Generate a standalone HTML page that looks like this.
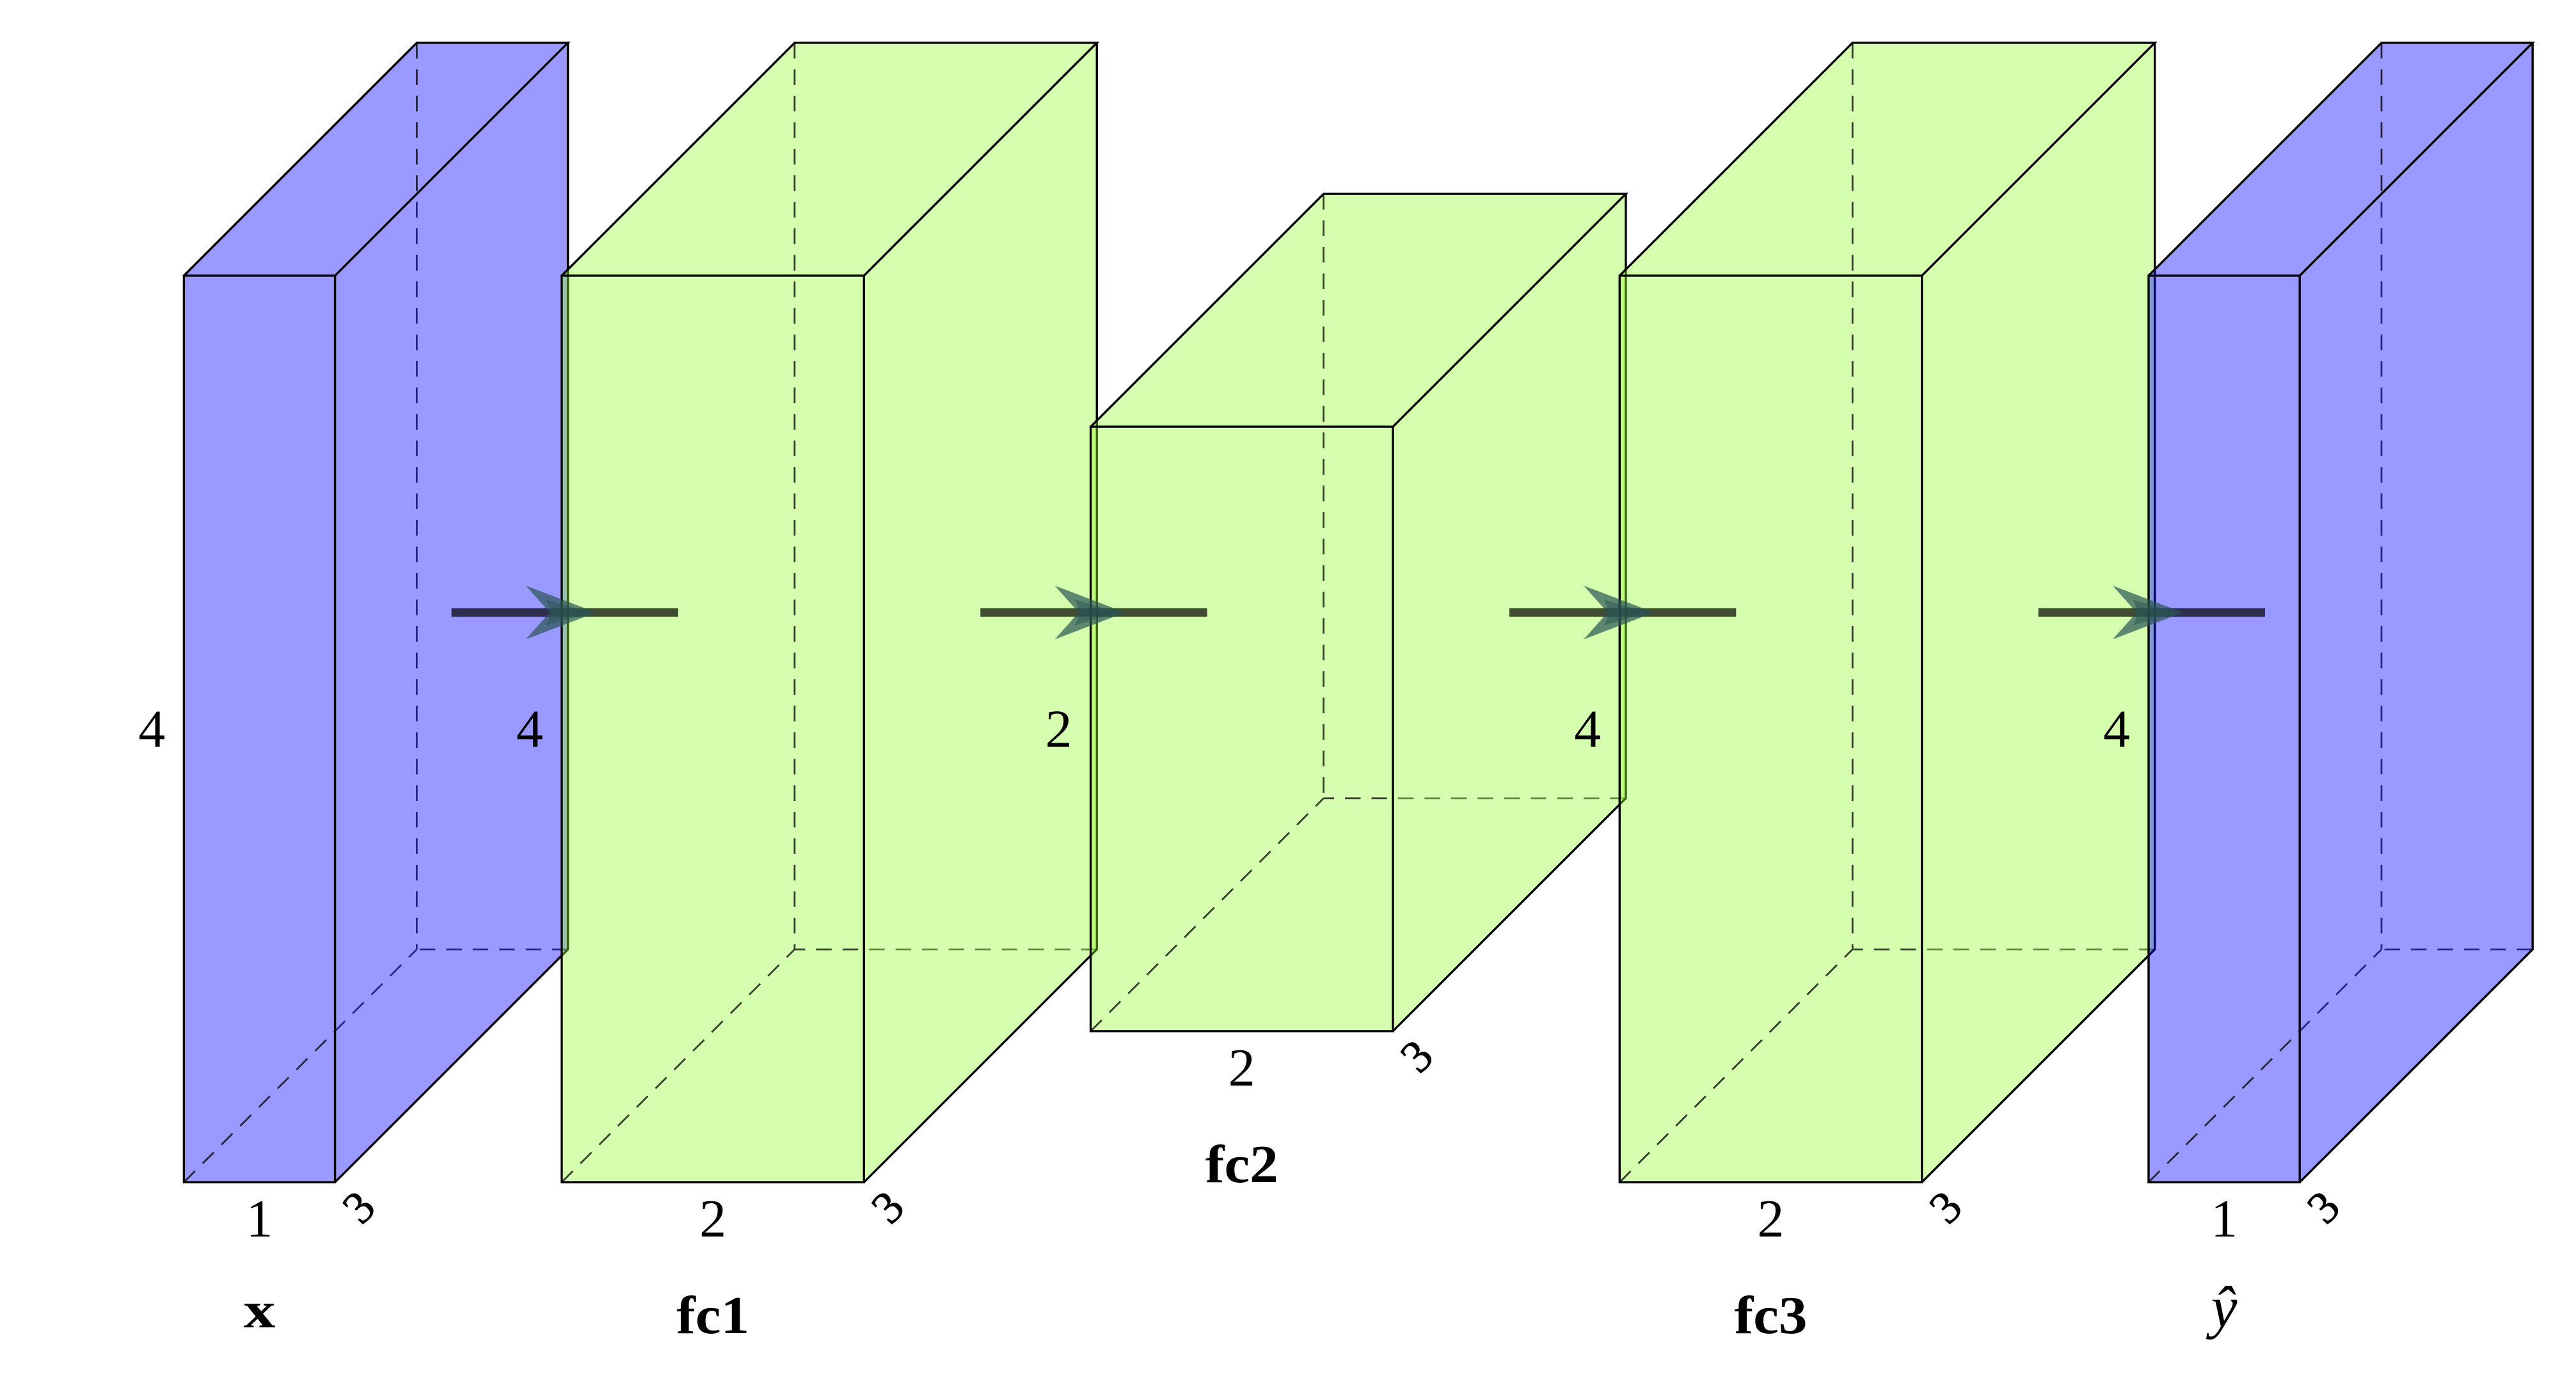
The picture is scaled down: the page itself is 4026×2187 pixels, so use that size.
<!DOCTYPE html>
<html lang="en">
<head>
<meta charset="utf-8">
<title>Autoencoder network diagram</title>
<style>
html,body{margin:0;padding:0;background:#fff;}
svg{display:block;}
text{font-family:"Liberation Serif",serif;fill:#000;text-anchor:middle;}
</style>
</head>
<body>
<svg id="chart" xmlns="http://www.w3.org/2000/svg" width="4026" height="2187" viewBox="0 0 4026 2187"></svg>
<script>
const layerNames = ['x', 'fc1', 'fc2', 'fc3', 'ŷ'];
const layerKinds = ['io', 'hidden', 'hidden', 'hidden', 'io'];
const layerPositions = [0, 3, 6.5, 10, 13];
const layerWidths = [1, 2, 2, 2, 1];
const layerHeights = [6, 6, 4, 6, 6];
const layerDepths = [3, 3, 3, 3, 3];
const heightLabels = ['4', '4', '2', '4', '4'];
const widthLabels = ['1', '2', '2', '2', '1'];
const depthLabels = ['3', '3', '3', '3', '3'];

const UNIT = 236.2, DEPTH_UNIT = 121.33, ORIGIN_X = 405.5, CENTER_Y = 1139.5;
const FILLS = { io: 'rgb(0,0,255)', hidden: 'rgb(150,255,52)' };
const NS = 'http://www.w3.org/2000/svg';
const svg = document.getElementById('chart');

const xCenter = p => ORIGIN_X + p * UNIT;
const halfW = w => w * UNIT / 2;
const halfH = h => h * UNIT / 2;
const depthPx = d => d * DEPTH_UNIT;

function make(tag, parent, attrs) {
  const el = document.createElementNS(NS, tag);
  for (const k in attrs) el.setAttribute(k, attrs[k]);
  parent.appendChild(el);
  return el;
}
const pts = arr => arr.map(p => p[0].toFixed(1) + ',' + p[1].toFixed(1)).join(' ');

layerNames.forEach((name, i) => {
  const c = xCenter(layerPositions[i]);
  const l = c - halfW(layerWidths[i]), r = c + halfW(layerWidths[i]);
  const t = CENTER_Y - halfH(layerHeights[i]), b = CENTER_Y + halfH(layerHeights[i]);
  const d = depthPx(layerDepths[i]);
  const fill = FILLS[layerKinds[i]];
  const slug = layerKinds[i] === 'io' ? (i === 0 ? 'input-x' : 'output-y-hat') : name;

  const g = make('g', svg, {});
  
  

  const front = make('polygon', g, { points: pts([[l,t],[r,t],[r,b],[l,b]]), fill: fill, 'fill-opacity': 0.4 });
  
  

  const top = make('polygon', g, { points: pts([[l,t],[r,t],[r+d,t-d],[l+d,t-d]]), fill: fill, 'fill-opacity': 0.4 });
  
  

  const hidden = make('path', g, {
    d: 'M' + (l+d) + ' ' + (t-d) + 'L' + (l+d) + ' ' + (b-d) +
       'M' + (r+d) + ' ' + (b-d) + 'L' + (l+d) + ' ' + (b-d) +
       'M' + l + ' ' + b + 'L' + (l+d) + ' ' + (b-d),
    fill: 'none', stroke: '#000', 'stroke-opacity': 0.75, 'stroke-width': 2.8, 'stroke-dasharray': '24.5 16.95'
  });
  
  

  const side = make('polygon', g, { points: pts([[r,t],[r+d,t-d],[r+d,b-d],[r,b]]), fill: fill, 'fill-opacity': 0.4 });
  
  

  const edges = make('path', g, {
    d: 'M' + l + ' ' + b + 'L' + l + ' ' + t + 'L' + r + ' ' + t + 'L' + r + ' ' + b + 'Z' +
       'M' + l + ' ' + t + 'L' + (l+d) + ' ' + (t-d) + 'L' + (r+d) + ' ' + (t-d) + 'L' + r + ' ' + t +
       'M' + (r+d) + ' ' + (t-d) + 'L' + (r+d) + ' ' + (b-d) + 'L' + r + ' ' + b,
    fill: 'none', stroke: '#000', 'stroke-width': 3.4, 'stroke-linejoin': 'miter'
  });
  
  

  const hLabel = make('text', g, { x: l - 50, y: CENTER_Y + 28, 'font-size': 84 });
  hLabel.textContent = heightLabels[i];
  
  

  const wLabel = make('text', g, { x: c, y: b + 85, 'font-size': 84 });
  wLabel.textContent = widthLabels[i];
  
  

  const dx = r + 37, dy = b + 39;
  const dLabel = make('text', g, { x: dx, y: dy + 24, 'font-size': 72, stroke: '#000', 'stroke-width': 0.8, transform: 'rotate(-45 ' + dx + ' ' + dy + ')' });
  dLabel.textContent = depthLabels[i];
  
  

  const isFc = layerKinds[i] === 'hidden';
  const isHat = i === layerNames.length - 1;
  const titleAttrs = { x: c, y: isFc ? b + 236 : b + (isHat ? 226 : 227), 'font-size': isFc ? 84 : (isHat ? 92 : 80) };
  if (isHat) {
    titleAttrs['font-style'] = 'italic';
  } else {
    titleAttrs['font-weight'] = 'bold';
    titleAttrs['textLength'] = isFc ? 114 : 50;
    titleAttrs['lengthAdjust'] = 'spacingAndGlyphs';
  }
  const title = make('text', g, titleAttrs);
  title.textContent = name;
  
  
});

for (let i = 0; i < layerNames.length - 1; i++) {
  const halfD = depthPx(layerDepths[i]) / 2;
  const x1 = xCenter(layerPositions[i]) + halfW(layerWidths[i]) + halfD;
  const x2 = xCenter(layerPositions[i + 1]) - halfW(layerWidths[i + 1]) + halfD;
  const y = CENTER_Y - halfD;
  const m = (x1 + x2) / 2;

  const g = make('g', svg, {});
  
  

  const shaft = make('line', g, { x1: x1, y1: y, x2: x2, y2: y, stroke: '#000', 'stroke-opacity': 0.7, 'stroke-width': 13.3 });
  
  

  const head = make('polygon', g, {
    points: pts([[m+49,y],[m-61,y-42],[m-23.5,y],[m-61,y+42]]),
    fill: 'rgb(41,84,84)', 'fill-opacity': 0.7
  });
  
  

  const inner = make('polygon', g, {
    points: pts([[m+40,y],[m-29.5,y-20],[m-20,y],[m-29.5,y+20]]),
    fill: 'rgb(41,84,84)', 'fill-opacity': 0.5
  });
  
  
}
</script>
</body>
</html>
